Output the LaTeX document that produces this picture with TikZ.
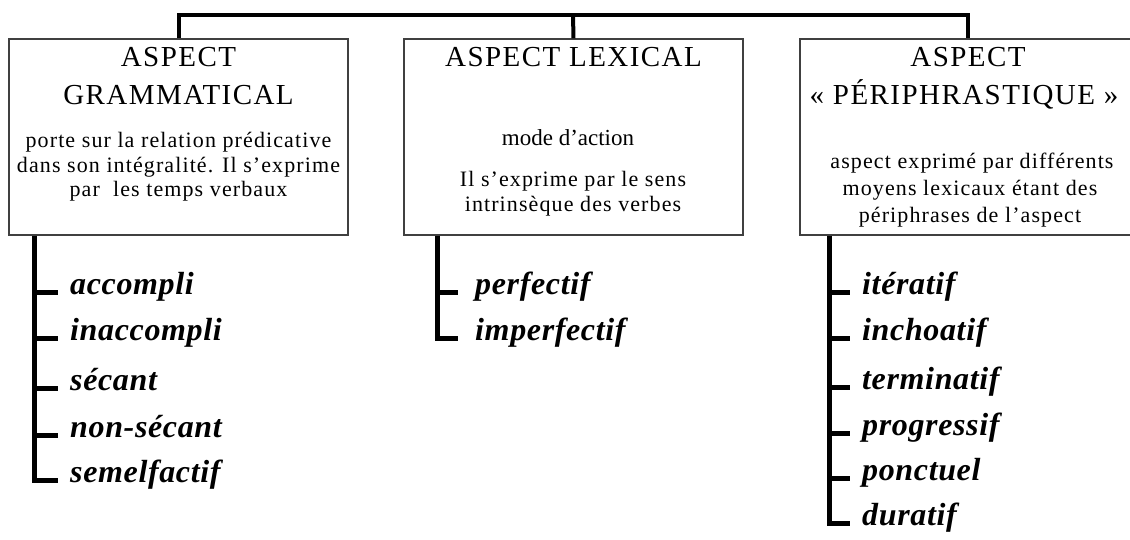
\documentclass[tikz,border=0pt]{standalone}
\usepackage{fontspec}
\setmainfont{Liberation Serif}
\newfontfamily\fontetitre[LetterSpace=5]{Liberation Serif}
\newfontfamily\fontetexte[LetterSpace=5]{Liberation Serif}
\newfontfamily\fontevariete[LetterSpace=2]{Liberation Serif}

\begin{document}
\begin{tikzpicture}[
    x=1pt, y=-1pt,
    % Cadres des trois aspects
    cadre/.style={draw=black!75, line width=1.3pt, inner sep=0pt, minimum height=196pt},
    % Textes des cadres
    titre/.style={anchor=base, inner sep=0pt, font=\fontetitre\fontsize{29}{34}\selectfont},
    texte/.style={anchor=base, inner sep=0pt, font=\fontetexte\fontsize{22}{26}\selectfont},
    mode/.style={anchor=base, inner sep=0pt, font=\fontsize{23}{27}\selectfont},
    % Valeurs aspectuelles
    variete/.style={anchor=mid west, inner sep=0pt, font=\fontevariete\fontsize{32}{36}\selectfont\bfseries\itshape},
    % Traits
    lien/.style={line width=4pt},
    branche/.style={line width=5pt}
]
    \useasboundingbox (0,0) rectangle (1130,539);

    % ==========================================
    % CADRES
    % ==========================================
    \node[cadre, minimum width=339pt] (gram) at (178.5,137) {};
    \node[cadre, minimum width=339pt] (lex) at (573.5,137) {};
    \node[cadre, minimum width=336pt] (peri) at (968,137) {};

    % Accolade du haut
    \coordinate (sommet) at (573,15);
    \draw[lien] (gram.north) |- (sommet) -| (peri.north);
    \draw[lien] (sommet) -- (lex.north);

    % Aspect grammatical
    \node[titre] (gram-t1) at (178.5,66) {ASPECT};
    \node[titre] (gram-t2) at (178.5,104) {GRAMMATICAL};
    \node[texte] (gram-l1) at (178.5,147) {porte sur la relation prédicative};
    \node[texte] (gram-l2) at (178.5,172) {dans son intégralité. Il s’exprime};
    \node[texte] (gram-l3) at (178.5,196) {par\ \ les temps verbaux};

    % Aspect lexical
    \node[titre] (lex-t1) at (573.5,66) {ASPECT LEXICAL};
    \node[mode] (lex-m) at (568,145) {mode d'action};
    \node[texte] (lex-l1) at (573,186) {Il s’exprime par le sens};
    \node[texte] (lex-l2) at (573,211) {intrinsèque des verbes};

    % Aspect périphrastique
    \node[titre] (peri-t1) at (968,66) {ASPECT};
    \node[titre] (peri-t2) at (964,104) {«~PÉRIPHRASTIQUE~»};
    \node[texte] (peri-l1) at (972,168) {aspect exprimé par différents};
    \node[texte] (peri-l2) at (970,195) {moyens lexicaux étant des};
    \node[texte] (peri-l3) at (970,222) {périphrases de l’aspect};

    % ==========================================
    % BRANCHES
    % ==========================================
    \foreach \y/\mot [count=\i] in {292/accompli, 338/inaccompli, 388/sécant, 435/non-sécant, 480/semelfactif}{
        \node[variete] (gv\i) at (70,\y) {\mot};
        \draw[branche] ([xshift=-35pt]gv\i.mid west) -- ([xshift=-12pt]gv\i.mid west);
    }
    \draw[branche] ([xshift=26pt]gram.south west) |- ([xshift=-12pt]gv5.mid west);

    \foreach \y/\mot [count=\i] in {292/perfectif, 338/imperfectif}{
        \node[variete] (lv\i) at (475,\y) {\mot};
        \draw[branche] ([xshift=-37pt]lv\i.mid west) -- ([xshift=-17pt]lv\i.mid west);
    }
    \draw[branche] ([xshift=34pt]lex.south west) |- ([xshift=-17pt]lv2.mid west);

    \foreach \y/\mot [count=\i] in {292/itératif, 338/inchoatif, 387/terminatif, 433/progressif, 478/ponctuel, 523/duratif}{
        \node[variete] (pv\i) at (862,\y) {\mot};
        \draw[branche] ([xshift=-32pt]pv\i.mid west) -- ([xshift=-12pt]pv\i.mid west);
    }
    \draw[branche] ([xshift=30pt]peri.south west) |- ([xshift=-12pt]pv6.mid west);

\end{tikzpicture}
\end{document}
